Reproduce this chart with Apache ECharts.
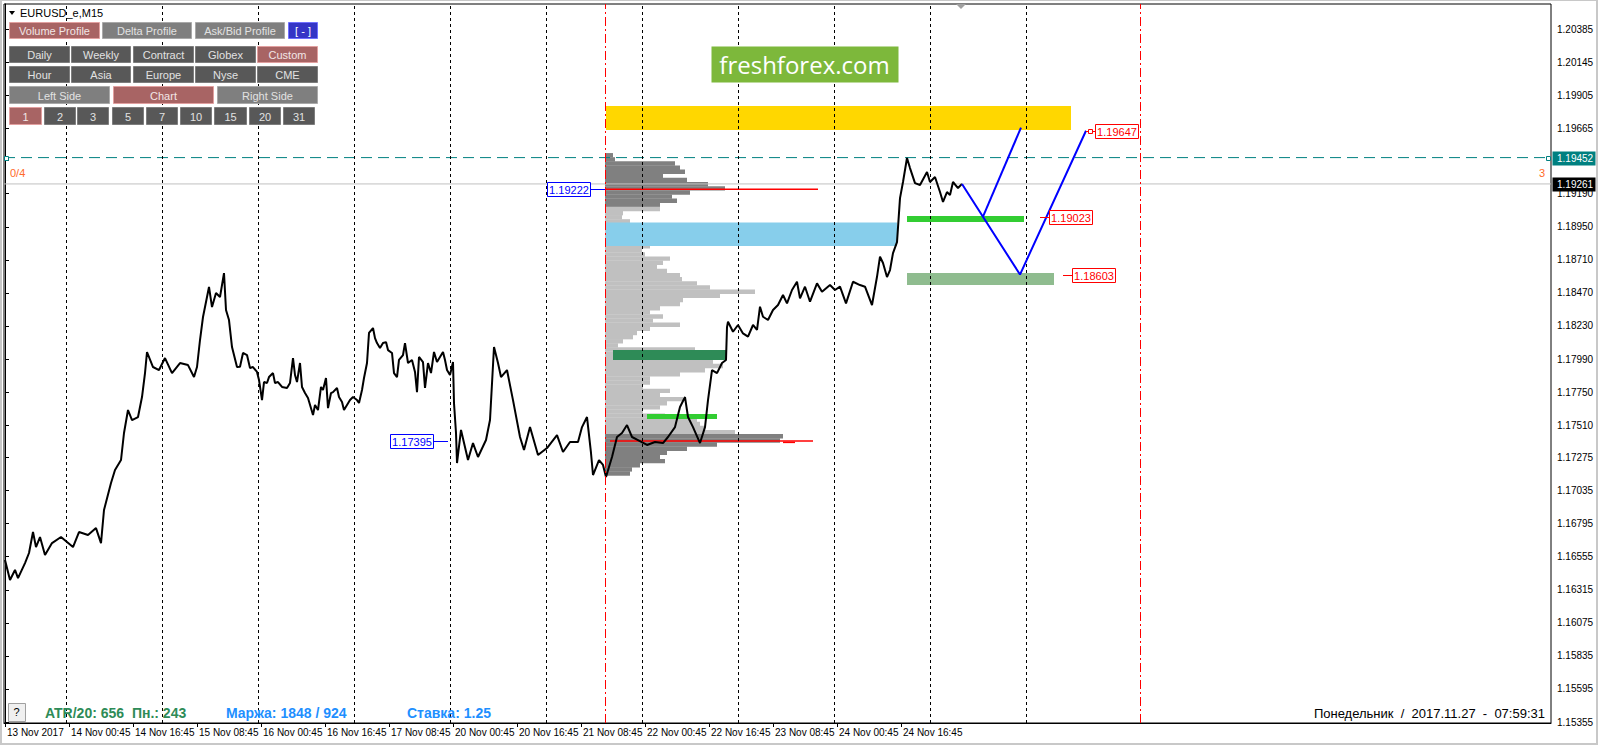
<!DOCTYPE html>
<html><head><meta charset="utf-8">
<script src="https://cdn.jsdelivr.net/npm/echarts@6/dist/echarts.min.js"></script>
<style>html,body{margin:0;padding:0;background:#fff;overflow:hidden}#c{width:1600px;height:747px}</style>
</head><body><div id="c"></div>
<script>
// ---------- DATA ----------
const timeLabels = ['13 Nov 2017','14 Nov 00:45','14 Nov 16:45','15 Nov 08:45','16 Nov 00:45','16 Nov 16:45','17 Nov 08:45','20 Nov 00:45','20 Nov 16:45','21 Nov 08:45','22 Nov 00:45','22 Nov 16:45','23 Nov 08:45','24 Nov 00:45','24 Nov 16:45'];
const timeLabelBars = [0,64,128,192,256,320,384,448,512,576,640,704,768,832,896];
const daySeparatorBars = [61,157,253,349,445,541,637,733,829,925,1021];
const rangeMarkerBars = [600,1135];
const yTickValues = [1.20385,1.20145,1.19905,1.19665,1.19430,1.19190,1.18950,1.18710,1.18470,1.18230,1.17990,1.17750,1.17510,1.17275,1.17035,1.16795,1.16555,1.16315,1.16075,1.15835,1.15595,1.15355];
const askLevel = 1.19452;
const bidLevel = 1.19261;
// price path: [bar index, price]
const pricePath = [[0,1.16531],[5,1.16386],[10,1.16459],[13,1.16400],[20,1.16509],[24,1.16582],[28,1.16734],[31,1.16625],[35,1.16698],[40,1.16567],[47,1.16654],[56,1.16698],[62,1.16662],[68,1.16625],[74,1.16734],[83,1.16713],[91,1.16763],[96,1.16654],[99,1.16894],[106,1.17090],[110,1.17184],[116,1.17257],[119,1.17453],[123,1.17620],[127,1.17547],[133,1.17569],[137,1.17714],[140,1.17888],[142,1.18041],[148,1.17932],[154,1.17910],[160,1.17997],[167,1.17888],[175,1.17961],[183,1.17946],[189,1.17859],[192,1.17932],[195,1.18128],[198,1.18295],[204,1.18513],[207,1.18367],[211,1.18469],[215,1.18440],[219,1.18614],[221,1.18346],[224,1.18273],[227,1.18077],[232,1.17932],
[235,1.17934],[238,1.18034],[242,1.18019],[245,1.17925],[248,1.17932],[252,1.17896],[254,1.17838],[257,1.17692],[259,1.17823],[262,1.17816],[264,1.17859],[268,1.17888],[270,1.17816],[273,1.17823],[277,1.17787],[282,1.17780],[285,1.17816],[288,1.17997],[290,1.17874],[292,1.17823],[295,1.17961],[297,1.17787],[300,1.17743],[303,1.17707],[308,1.17583],[310,1.17656],[313,1.17620],[316,1.17787],[318,1.17765],[321,1.17852],[323,1.17634],[326,1.17743],[328,1.17750],[332,1.17780],[334,1.17714],[337,1.17678],[339,1.17620],[342,1.17656],[345,1.17692],[348,1.17714],[352,1.17692],[354,1.17671],[357,1.17765],[359,1.17852],[362,1.17961],[364,1.18179],[368,1.18215],[370,1.18142],[372,1.18106],[375,1.18070],[378,1.18106],[381,1.18113],[383,1.18055],[387,1.18034],[389,1.17888],[392,1.17859],[394,1.17983],[398,1.18019],[400,1.18106],[403,1.17961],[407,1.17983],[410,1.17896],[412,1.17750],[414,1.18005],[418,1.17968],[420,1.17780],[423,1.17961],[426,1.17888],[429,1.18041],[432,1.17968],[435,1.18005],[438,1.18041],[440,1.17983],[442,1.17910],[445,1.17874],[448,1.17968],[449,1.17671],[451,1.17453],
[452,1.17235],[456,1.17475],[463,1.17257],[468,1.17380],[473,1.17279],[481,1.17402],[485,1.17547],[489,1.18077],[493,1.17961],[496,1.17859],[502,1.17910],[508,1.17692],[515,1.17424],[519,1.17330],[525,1.17496],[533,1.17293],[542,1.17344],[552,1.17438],[558,1.17315],[565,1.17388],[573,1.17388],[577,1.17496],[582,1.17569],[586,1.17308],[588,1.17148],[594,1.17257],[598,1.17221],[601,1.17134],[607,1.17279],[612,1.17424],[617,1.17453],[622,1.17511],[627,1.17424],[633,1.17402],[642,1.17366],[650,1.17388],[658,1.17380],[663,1.17424],[670,1.17496],[675,1.17642],[680,1.17714],[683,1.17569],[688,1.17496],[695,1.17380],[700,1.17496],[703,1.17692],[707,1.17910],[712,1.17888],[717,1.17961],[721,1.17983],
[722,1.18222],[723,1.18261],[728,1.18188],[733,1.18237],[738,1.18176],[743,1.18152],[748,1.18237],[752,1.18201],[755,1.18370],[758,1.18297],[763,1.18273],[768,1.18346],[773,1.18382],[778,1.18455],[782,1.18394],[787,1.18491],[792,1.18551],[795,1.18430],[800,1.18515],[805,1.18406],[812,1.18539],[817,1.18479],[825,1.18527],[830,1.18491],[835,1.18515],[841,1.18394],[848,1.18551],[855,1.18527],[860,1.18515],[867,1.18382],[872,1.18587],[875,1.18733],[878,1.18687],[882,1.18585],[885,1.18636],[888,1.18759],[892,1.18839],[895,1.19158],[898,1.19275],[902,1.19449],[905,1.19376],[910,1.19267],[915,1.19253],[922,1.19347],[925,1.19275],[930,1.19311],[935,1.19202],[938,1.19130],[942,1.19202],[945,1.19180],[948,1.19275],[953,1.19231],[957,1.19261]];
// volume profile (rows from top price downward)
const profileStartBar = 600;
const profileTopPrice = 1.1947;
const profileStep = 0.0003;
const profileVolume = [8,10,70,75,80,58,82,103,120,85,67,72,55,55,18,17,25,30,30,35,40,40,45,37,40,65,58,52,62,75,77,92,105,150,115,78,75,55,45,58,48,75,45,32,28,18,13,90,100,110,108,118,100,75,45,45,38,65,55,78,62,55,38,60,92,95,100,130,178,175,112,82,62,55,60,35,27,25];
const valueAreaRows = [13,67];
// zones
const zoneStartBar = [601,601,608,642,902,902];
const zoneEndBar   = [1066,892,722,712,1019,1049];
const zoneHigh     = [1.19826,1.18981,1.18055,1.17591,1.19028,1.18614];
const zoneLow      = [1.19652,1.18810,1.17983,1.17555,1.18985,1.18527];
// level lines
const levelStartBar = [600,605,778];
const levelEndBar   = [813,808,790];
const levelPrice    = [1.19222,1.17395,1.17385];
// forecast
const forecastMain   = [[957,1.19261],[1015,1.18603],[1081,1.19647]];
const forecastBranch = [[978,1.19023],[1016,1.19670]];
// price tags
const tagBars   = [600,443,1081,1035,1058];
const tagPrices = [1.19222,1.17395,1.19647,1.19023,1.18603];
const tagKinds  = ['L','L','R','R','R'];
// buttons
const buttonRows = [
  ['Volume Profile','Delta Profile','Ask/Bid Profile','[ - ]'],
  ['Daily','Weekly','Contract','Globex','Custom'],
  ['Hour','Asia','Europe','Nyse','CME'],
  ['Left Side','Chart','Right Side'],
  ['1','2','3','5','7','10','15','20','31']
];
const activeButtons = ['Volume Profile','Custom','Chart','1'];

// ---------- STYLES ----------
const zoneColors = ['#ffd700','#87ceeb','#2e8b57','#32cd32','#32cd32','#8fbc8f'];
const FONT = 'Liberation Sans, Arial, sans-serif';
const X_MIN = -1, X_MAX = 1546;

const chart = echarts.init(document.getElementById('c'), null, {renderer:'svg'});

const sepMarks = daySeparatorBars.map(b=>({xAxis:b, lineStyle:{color:'#000',type:[3,3],width:1}}))
  .concat(rangeMarkerBars.map(b=>({xAxis:b, lineStyle:{color:'#ff0000',type:[9,3,2,3],width:1}})));

const option = {
  animation:false,
  backgroundColor:'#fff',
  grid:{left:4,right:49,top:4,bottom:24,show:true,borderColor:'#000',borderWidth:1,backgroundColor:'#fff',containLabel:false,outerBoundsMode:'none'},
  xAxis:{type:'value',min:X_MIN,max:X_MAX,
    axisLine:{show:true,lineStyle:{color:'#000',width:1}},
    axisTick:{show:true,customValues:timeLabelBars,length:4,lineStyle:{color:'#000'}},
    axisLabel:{customValues:timeLabelBars,formatter:v=>timeLabels[timeLabelBars.indexOf(Math.round(v))]||'',align:'left',margin:4,fontSize:10,color:'#000',fontFamily:FONT,padding:[0,0,0,2]},
    splitLine:{show:false}},
  yAxis:{type:'value',position:'right',min:1.15348,max:1.20567,
    axisLine:{show:true,lineStyle:{color:'#000',width:1}},
    axisTick:{show:true,customValues:yTickValues,length:4,lineStyle:{color:'#000'}},
    axisLabel:{customValues:yTickValues,formatter:v=>v.toFixed(5),margin:6,fontSize:10,color:'#000',fontFamily:FONT},
    splitLine:{show:false}},
  series:[
    {type:'custom',name:'profile',z:1,silent:true,
     data:profileVolume.map((v,k)=>[profileStartBar,profileStartBar+v,profileTopPrice-k*profileStep,k]),
     encode:{x:[0,1],y:2},
     renderItem:(params,api)=>{
       const a=api.coord([api.value(0),api.value(2)]);
       const b=api.coord([api.value(1),api.value(2)]);
       const h=api.size([0,profileStep])[1];
       const k=api.value(3);
       const dark=k<valueAreaRows[0]||k>valueAreaRows[1];
       return {type:'rect',shape:{x:a[0],y:a[1]-h*0.5,width:b[0]-a[0],height:h+0.3},style:{fill:dark?'#808080':'#c0c0c0'}};
     }},
    {type:'line',name:'bid',z:2,silent:true,symbol:'none',data:[[X_MIN,bidLevel],[X_MAX,bidLevel]],lineStyle:{color:'#c0c0c0',width:1}},
    {type:'custom',name:'zones',z:2,silent:true,
     data:zoneStartBar.map((s,i)=>[s,zoneEndBar[i],zoneHigh[i],zoneLow[i],i]),
     encode:{x:[0,1],y:[2,3]},
     renderItem:(params,api)=>{
       const a=api.coord([api.value(0),api.value(2)]);
       const b=api.coord([api.value(1),api.value(3)]);
       return {type:'rect',shape:{x:a[0],y:a[1],width:b[0]-a[0],height:b[1]-a[1]},style:{fill:zoneColors[api.value(4)]}};
     }},
    {type:'custom',name:'levels',z:3,silent:true,
     data:levelStartBar.map((s,i)=>[s,levelEndBar[i],levelPrice[i]]),
     encode:{x:[0,1],y:2},
     renderItem:(params,api)=>{
       const a=api.coord([api.value(0),api.value(2)]);
       const b=api.coord([api.value(1),api.value(2)]);
       return {type:'line',shape:{x1:a[0],y1:a[1],x2:b[0],y2:b[1]},style:{stroke:'#ff0000',lineWidth:1.5}};
     }},
    {type:'line',name:'ask',z:3,silent:true,symbol:'none',data:[[X_MIN,askLevel],[X_MAX,askLevel]],lineStyle:{color:'#008080',width:1,type:[11,6]}},
    {type:'line',name:'guides',z:3,data:[],silent:true,
     markLine:{silent:true,symbol:['none','none'],label:{show:false},animation:false,data:sepMarks}},
    {type:'line',name:'price',z:4,data:pricePath,symbol:'none',silent:true,lineStyle:{color:'#000',width:2}},
    {type:'line',name:'forecast',z:5,data:forecastMain,symbol:'none',silent:true,lineStyle:{color:'#0000ff',width:2}},
    {type:'line',name:'forecast2',z:5,data:forecastBranch,symbol:'none',silent:true,lineStyle:{color:'#0000ff',width:2}},
    {type:'custom',name:'tags',z:6,silent:true,
     data:tagBars.map((b,i)=>[b,tagPrices[i],i]),
     encode:{x:0,y:1},
     renderItem:(params,api)=>{
       const i=api.value(2);
       const p=api.coord([api.value(0),api.value(1)]);
       const left=tagKinds[i]==='L';
       const col=left?'#0000ff':'#ff0000';
       const w=43,h=14,gap=left?15:9;
       const bx=left?p[0]-gap-w:p[0]+gap;
       const lx=left?p[0]-gap:p[0]+gap;
       const yy=Math.round(p[1]);
       const ch=[
         {type:'line',shape:{x1:p[0],y1:yy+0.5,x2:lx,y2:yy+0.5},style:{stroke:col,lineWidth:1}},
         {type:'rect',shape:{x:Math.round(bx)+0.5,y:yy-7+0.5,width:w,height:h},style:{fill:'#fff',stroke:col,lineWidth:1}},
         {type:'text',style:{x:bx+w/2+0.5,y:yy+1,text:tagPrices[i].toFixed(5),fill:col,font:'11px '+FONT,align:'center',verticalAlign:'middle',textAlign:'center',textVerticalAlign:'middle'}}
       ];
       if(i===2) ch.push({type:'rect',shape:{x:p[0]+2.5,y:yy-1.5,width:4,height:4},style:{fill:'#fff',stroke:col,lineWidth:1}});
       return {type:'group',children:ch};
     }}
  ]
};
chart.setOption(option);

// ---------- overlays ----------
const G=[];
function txt(x,y,t,fill,font,align){G.push({type:'text',z:100,style:{x:x,y:y,text:t,fill:fill,font:font,align:align||'left',textAlign:align||'left',verticalAlign:'middle',textVerticalAlign:'middle'}});}
function rect(x,y,w,h,fill,stroke){G.push({type:'rect',z:100,shape:{x:x+0.5,y:y+0.5,width:w,height:h},style:{fill:fill,stroke:stroke||null,lineWidth:1}});}

// header
G.push({type:'polygon',z:100,shape:{points:[[9,11],[15,11],[12,15]]},style:{fill:'#000'}});
txt(20,13,'EURUSD_e,M15','#000','11px '+FONT);

// buttons
const rowLayout=[
  {y:22,h:16,x:[9,102,195,288],w:[90,89,89,29],bg:'#7f7f7f',bd:'#a9a9a9'},
  {y:46,h:16,x:[9,71,133,195,257],w:[60,59,60,60,60],bg:'#585858',bd:'#7d7d7d'},
  {y:66,h:16,x:[9,71,133,195,257],w:[60,59,60,60,60],bg:'#585858',bd:'#7d7d7d'},
  {y:86,h:17,x:[9,113,217],w:[100,100,100],bg:'#7f7f7f',bd:'#a9a9a9'},
  {y:107,h:17,x:[9,44,77,112,146,180,214,249,283],w:[32,31,31,31,31,31,32,31,31],bg:'#585858',bd:'#7d7d7d'}
];
buttonRows.forEach((row,r)=>{
  const L=rowLayout[r];
  row.forEach((lab,j)=>{
    let bg=L.bg,bd=L.bd,fc='#e2e2e2';
    if(activeButtons.includes(lab)&&!(r===4&&lab!=='1')){bg='#a86464';bd='#e2a0a0';fc='#f2e6e6';}
    if(lab==='[ - ]'){bg='#3535c6';bd='#7070ff';fc='#ffffff';}
    rect(L.x[j],L.y,L.w[j],L.h,bg,bd);
    txt(L.x[j]+L.w[j]/2+0.5,L.y+L.h/2+1,lab,fc,'11px '+FONT,'center');
  });
});

// logo
rect(711,46,187,36,'#7db83b');
txt(804.5,64,'freshforex.com','#ffffff','24px Open Sans','center');

// counters
txt(10,173,'0/4','#ff6a2a','11px '+FONT);
txt(1545,173,'3','#ff6a2a','11px '+FONT,'right');

// chart shift marker
G.push({type:'polygon',z:100,shape:{points:[[956,4],[966,4],[961,9]]},style:{fill:'#a0a0a0'}});

// status line
rect(8,703,17,18,'#f0f0f0','#a0a0a0');
txt(16.5,712,'?','#000','11px '+FONT,'center');
txt(45,713,'ATR/20: 656  Пн.: 243','#2e8b57','bold 14px '+FONT);
txt(226,713,'Маржа: 1848 / 924','#1e8fff','bold 14px '+FONT);
txt(407,713,'Ставка: 1.25','#1e8fff','bold 14px '+FONT);
txt(1545,713,'Понедельник  /  2017.11.27  -  07:59:31','#000','13px '+FONT,'right');

// axis price labels & line end markers via library scale
const yAsk=Math.round(chart.convertToPixel({yAxisIndex:0},askLevel));
const yBid=Math.round(chart.convertToPixel({yAxisIndex:0},bidLevel));
rect(4,yAsk-2,4,4,'#fff','#008080');
rect(1546,yAsk-2,4,4,'#fff','#008080');
rect(1552,yAsk-7,43,14,'#008080');
txt(1557,yAsk+0.5,askLevel.toFixed(5),'#ffffff','10px '+FONT);
rect(1552,yBid-7,43,14,'#000000');
txt(1557,yBid+0.5,bidLevel.toFixed(5),'#ffffff','10px '+FONT);

// window frame
G.push({type:'rect',z:100,shape:{x:1,y:0,width:1596,height:744},style:{fill:null,stroke:'#c8c8c8',lineWidth:2}});

chart.setOption({graphic:G});
</script></body></html>
